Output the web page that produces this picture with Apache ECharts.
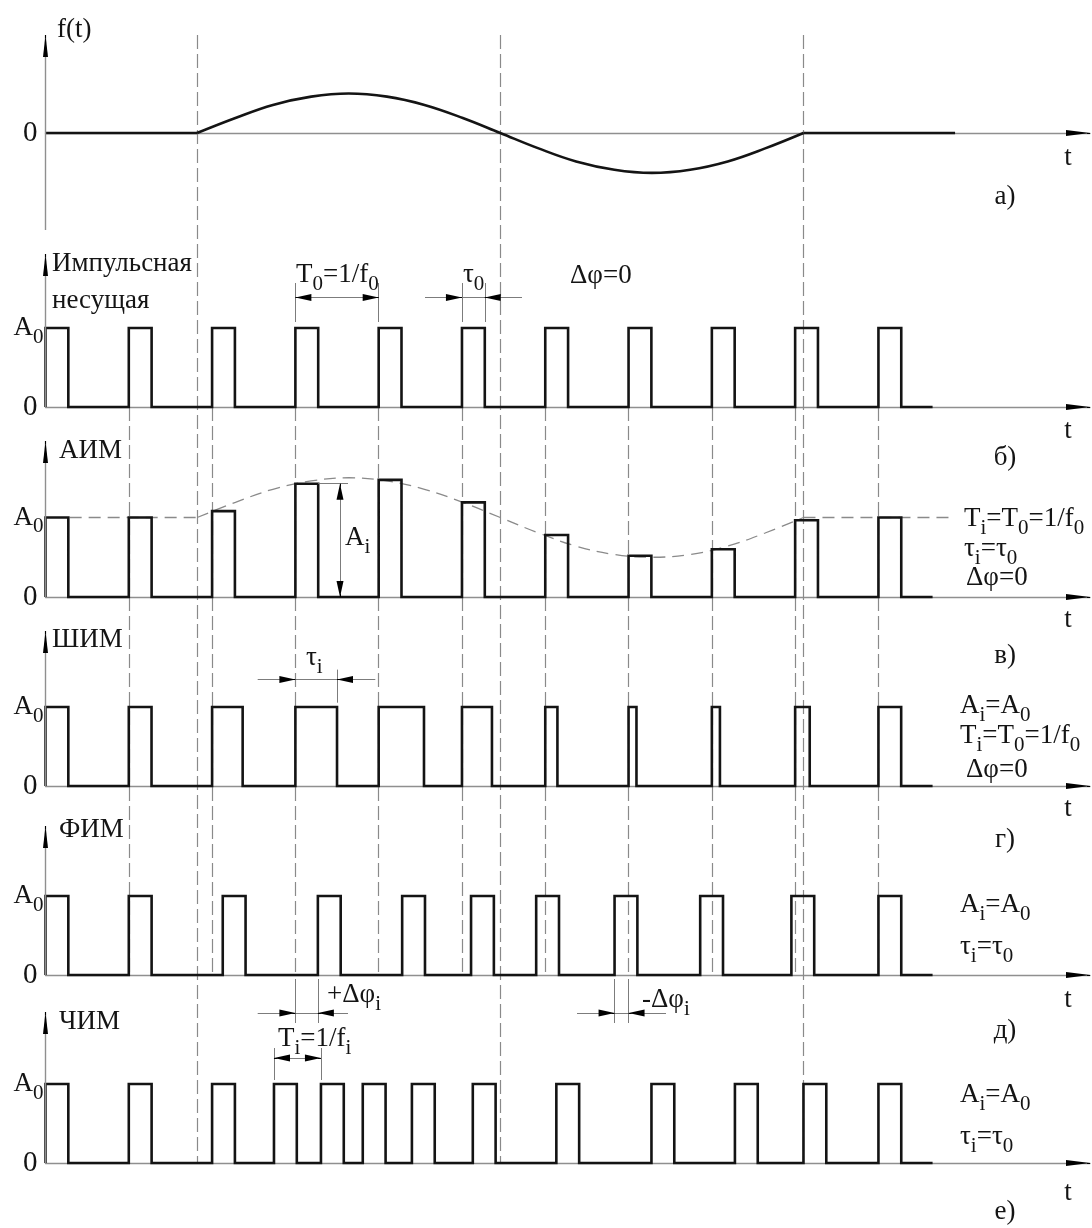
<!DOCTYPE html>
<html>
<head>
<meta charset="utf-8">
<title>Виды импульсной модуляции</title>
<script src="https://cdn.jsdelivr.net/npm/echarts@6/dist/echarts.min.js"></script>
<style>
  html, body { margin: 0; padding: 0; background: #fff; }
  #chart { width: 1092px; height: 1228px; }
</style>
</head>
<body>
<div id="chart"></div>
<script>
// ---------- data: time in carrier periods T0, amplitude in A0 units ----------
// modulating signal f(t), panel а)
const signalT = [1.82, 2.28, 2.73, 3.19, 3.64, 4.10, 4.55, 5.01, 5.46, 5.92, 6.37, 6.83, 7.28, 7.74, 8.19, 8.64, 9.10];
const signalF = [0, 0.38, 0.71, 0.92, 1.0, 0.92, 0.71, 0.38, 0, -0.39, -0.72, -0.93, -1.01, -0.93, -0.72, -0.39, 0];
const signalTailEnd = 10.92;
// АИМ envelope (dashed), same time points as the signal
const envelopeA = [1.0, 1.19, 1.355, 1.46, 1.5, 1.46, 1.355, 1.19, 1.0, 0.805, 0.64, 0.535, 0.5, 0.535, 0.64, 0.805, 1.0];
const envelopeHead = [0.29, 1.82];
const envelopeTail = [9.10, 10.92];
// pulse carrier, panel б)
const A0 = 1;
const carrierStart = [0, 1, 2, 3, 4, 5, 6, 7, 8, 9, 10];
const tau0 = 0.274;
// АИМ pulse heights
const aimHeight = [1.0, 1.0, 1.08, 1.425, 1.473, 1.19, 0.78, 0.518, 0.60, 0.965, 1.0];
// ШИМ pulse widths
const pwmWidth = [0.274, 0.273, 0.367, 0.50, 0.544, 0.36, 0.146, 0.095, 0.097, 0.175, 0.273];
// ФИМ pulse positions
const ppmStart = [0, 1, 2.128, 3.27, 4.282, 5.109, 5.891, 6.832, 7.86, 8.955, 10.0];
// ЧИМ pulse positions
const pfmStart = [0, 1, 2.0, 2.743, 3.307, 3.809, 4.399, 5.13, 6.133, 7.275, 8.277, 9.10, 10.0];
const traceEnd = 10.65;
const tMax = 12.54;

// ---------- layout ----------
const W = 1092, H = 1228;
const AXIS_LEFT = 45.5, AXIS_RIGHT = 1090;
const PX_PER_T = (AXIS_RIGHT - AXIS_LEFT) / tMax;
// zero line (px), px per amplitude unit, top of the vertical arrow (px), tick labels
const panels = [
  { zero: 133,  unit: 39.5, arrowTop: 35,   axisBottom: 230, labels: [0] },
  { zero: 407,  unit: 79,   arrowTop: 254,  labels: [0, A0] },
  { zero: 597,  unit: 79.5, arrowTop: 441,  labels: [0, A0] },
  { zero: 786,  unit: 79,   arrowTop: 631,  labels: [0, A0] },
  { zero: 975,  unit: 79,   arrowTop: 826,  labels: [0, A0] },
  { zero: 1163, unit: 79,   arrowTop: 1012, labels: [0, A0] }
];
const yv = (p, px) => (panels[p].zero - px) / panels[p].unit;
const tx = px => (px - AXIS_LEFT) / PX_PER_T;

const SERIF = '"Liberation Serif", "Times New Roman", serif';
const INK = '#141414';
const GRAY = '#8a8a8a';

const GUIDE = { color: GRAY, width: 1.2, type: [14, 5] };
const THIN = { color: '#7c7c7c', width: 1, type: 'solid' };
const AXIS = { color: '#8f8f8f', width: 1.4, type: 'solid' };
const HEAD = { color: '#000', width: 1, type: 'solid' };

function seg(a, b, style) {
  return [{ coord: a, lineStyle: style }, { coord: b, lineStyle: style }];
}
// filled arrowhead whose tip sits at `tip`, pointing in direction `dir`
function head(p, tip, dir, size) {
  const dx = 3 / PX_PER_T, dy = 3 / panels[p].unit;
  const back = {
    right: [tip[0] - dx, tip[1]], left: [tip[0] + dx, tip[1]],
    up: [tip[0], tip[1] - dy], down: [tip[0], tip[1] + dy]
  }[dir];
  return [
    { coord: back, lineStyle: HEAD },
    { coord: tip, lineStyle: HEAD, symbol: 'triangle', symbolSize: size || [7, 16], symbolOffset: [0, '50%'] }
  ];
}

function pulseTrace(starts, widths, heights, end) {
  const pts = [];
  for (let i = 0; i < starts.length; i++) {
    const s = starts[i], w = widths[i], h = heights[i];
    pts.push([s, 0], [s, h], [s + w, h], [s + w, 0]);
  }
  pts.push([end, 0]);
  return pts;
}

const TRACE = { color: INK, width: 2.6, join: 'miter', cap: 'butt' };
function traceSeries(p, data, extra) {
  return Object.assign({
    type: 'line', xAxisIndex: p, yAxisIndex: p, data: data,
    showSymbol: false, symbol: 'none', z: 3, silent: true,
    lineStyle: TRACE
  }, extra || {});
}
function markSeries(p, lines, z) {
  return {
    type: 'line', xAxisIndex: p, yAxisIndex: p, data: [], silent: true,
    showSymbol: false, symbol: 'none',
    markLine: {
      silent: true, animation: false, z: z,
      symbol: ['none', 'none'],
      label: { show: false },
      lineStyle: { type: 'solid', color: GRAY, width: 1 },
      data: lines
    }
  };
}

// ---------- traces ----------
const widthsOf = (arr, w) => arr.map(() => w);
const series = [];

// а) modulating signal
series.push(traceSeries(0, [[0, 0], [signalT[0], 0]]));
series.push(traceSeries(0, signalT.map((t, i) => [t, signalF[i]]), { smooth: 0.4 }));
series.push(traceSeries(0, [[signalT[signalT.length - 1], 0], [signalTailEnd, 0]]));

// б) carrier
series.push(traceSeries(1, pulseTrace(carrierStart, widthsOf(carrierStart, tau0), widthsOf(carrierStart, A0), traceEnd)));

// в) АИМ with its envelope
const ENV = { color: GRAY, width: 1.3, type: [12, 7] };
series.push(traceSeries(2, [[envelopeHead[0], A0], [envelopeHead[1], A0]], { lineStyle: ENV, z: 2 }));
series.push(traceSeries(2, signalT.map((t, i) => [t, envelopeA[i]]), { lineStyle: ENV, z: 2, smooth: 0.4 }));
series.push(traceSeries(2, [[envelopeTail[0], A0], [envelopeTail[1], A0]], { lineStyle: ENV, z: 2 }));
series.push(traceSeries(2, pulseTrace(carrierStart, widthsOf(carrierStart, tau0), aimHeight, traceEnd)));

// г) ШИМ
series.push(traceSeries(3, pulseTrace(carrierStart, pwmWidth, widthsOf(carrierStart, A0), traceEnd)));
// д) ФИМ
series.push(traceSeries(4, pulseTrace(ppmStart, widthsOf(ppmStart, tau0), widthsOf(ppmStart, A0), traceEnd)));
// е) ЧИМ
series.push(traceSeries(5, pulseTrace(pfmStart, widthsOf(pfmStart, tau0), widthsOf(pfmStart, A0), traceEnd)));

// ---------- guide lines (under the traces) ----------
const longGuides = [signalT[0], signalT[8], signalT[signalT.length - 1]]
  .map(x => seg([x, yv(0, 35)], [x, yv(0, 1163)], GUIDE));
series.push(markSeries(0, longGuides, 1));
const carrierGuides = carrierStart.slice(1).map(x => seg([x, 0], [x, yv(1, 975)], GUIDE));
series.push(markSeries(1, carrierGuides, 1));

// ---------- axes arrows and dimension marks ----------
const XHEAD = [6, 24], YHEAD = [5, 22];
panels.forEach((pn, p) => {
  const lines = [];
  const bottom = pn.axisBottom != null ? yv(p, pn.axisBottom) : 0;
  lines.push(seg([0, bottom], [0, yv(p, pn.arrowTop)], AXIS));
  lines.push(head(p, [0, yv(p, pn.arrowTop)], 'up', YHEAD));
  lines.push(head(p, [tMax, 0], 'right', XHEAD));

  if (p === 1) {
    const yD = yv(1, 297.5), e1 = yv(1, 322), e2 = yv(1, 283);
    const a = carrierStart[3], b = carrierStart[4];
    lines.push(seg([a, e1], [a, e2], THIN), seg([b, e1], [b, e2], THIN));
    lines.push(seg([a, yD], [b, yD], THIN), head(1, [a, yD], 'left'), head(1, [b, yD], 'right'));
    const c = carrierStart[5], d = carrierStart[5] + tau0;
    lines.push(seg([c, e1], [c, e2], THIN), seg([d, e1], [d, e2], THIN));
    lines.push(seg([tx(425), yD], [tx(522), yD], THIN), head(1, [c, yD], 'right'), head(1, [d, yD], 'left'));
  }
  if (p === 2) {
    const h = aimHeight[3], xa = tx(340);
    lines.push(seg([carrierStart[3] + tau0, h], [tx(348), h], THIN));
    lines.push(seg([xa, 0], [xa, h], THIN), head(2, [xa, h], 'up'), head(2, [xa, 0], 'down'));
  }
  if (p === 3) {
    const a = carrierStart[3], b = carrierStart[3] + pwmWidth[3], yD = yv(3, 679.4);
    lines.push(seg([b, yv(3, 702.7)], [b, yv(3, 669.6)], THIN));
    lines.push(seg([tx(257.7), yD], [tx(375.3), yD], THIN), head(3, [a, yD], 'right'), head(3, [b, yD], 'left'));
  }
  if (p === 4) {
    const yD = yv(4, 1013), e1 = yv(4, 979), e2 = yv(4, 1023);
    const a = carrierStart[3], b = ppmStart[3];
    lines.push(seg([a, e1], [a, e2], THIN), seg([b, e1], [b, e2], THIN));
    lines.push(seg([tx(257.7), yD], [tx(348), yD], THIN), head(4, [a, yD], 'right'), head(4, [b, yD], 'left'));
    const c = ppmStart[7], d = carrierStart[7];
    lines.push(seg([c, e1], [c, e2], THIN), seg([d, e1], [d, e2], THIN));
    lines.push(seg([tx(577), yD], [tx(666), yD], THIN), head(4, [c, yD], 'right'), head(4, [d, yD], 'left'));
  }
  if (p === 5) {
    const a = pfmStart[3], b = pfmStart[4], yD = yv(5, 1058), e1 = yv(5, 1080), e2 = yv(5, 1048);
    lines.push(seg([a, e1], [a, e2], THIN), seg([b, e1], [b, e2], THIN));
    lines.push(seg([a, yD], [b, yD], THIN), head(5, [a, yD], 'left'), head(5, [b, yD], 'right'));
  }
  series.push(markSeries(p, lines, 5));
});

// ---------- text ----------
const RICH = {
  m: { fontFamily: SERIF, fontSize: 27, fill: INK },
  s: { fontFamily: SERIF, fontSize: 21, fill: INK, padding: [18, 0, 0, 0] }
};
const LABELS = [
  // а)
  [57, 30, '{m|f(t)}'],
  [1068, 158, '{m|t}', 'center'],
  [1005, 197, '{m|а)}', 'center'],
  // б)
  [52, 264, '{m|Импульсная}'],
  [52, 301, '{m|несущая}'],
  [296, 275, '{m|T}{s|0}{m|=1/f}{s|0}'],
  [463, 275, '{m|τ}{s|0}'],
  [570, 276, '{m|Δφ=0}'],
  [1068, 431, '{m|t}', 'center'],
  [1005, 458, '{m|б)}', 'center'],
  // в)
  [59, 451, '{m|АИМ}'],
  [345, 538, '{m|A}{s|i}'],
  [964, 519, '{m|T}{s|i}{m|=T}{s|0}{m|=1/f}{s|0}'],
  [964, 549, '{m|τ}{s|i}{m|=τ}{s|0}'],
  [966, 578, '{m|Δφ=0}'],
  [1068, 620, '{m|t}', 'center'],
  [1005, 656, '{m|в)}', 'center'],
  // г)
  [52, 640, '{m|ШИМ}'],
  [306, 658, '{m|τ}{s|i}'],
  [960, 706, '{m|A}{s|i}{m|=A}{s|0}'],
  [960, 736, '{m|T}{s|i}{m|=T}{s|0}{m|=1/f}{s|0}'],
  [966, 770, '{m|Δφ=0}'],
  [1068, 809, '{m|t}', 'center'],
  [1005, 840, '{m|г)}', 'center'],
  // д)
  [59, 830, '{m|ФИМ}'],
  [327, 995, '{m|+Δφ}{s|i}'],
  [642, 1000, '{m|-Δφ}{s|i}'],
  [960, 905, '{m|A}{s|i}{m|=A}{s|0}'],
  [960, 947, '{m|τ}{s|i}{m|=τ}{s|0}'],
  [1068, 1000, '{m|t}', 'center'],
  [1005, 1031, '{m|д)}', 'center'],
  // е)
  [59, 1022, '{m|ЧИМ}'],
  [278, 1039, '{m|T}{s|i}{m|=1/f}{s|i}'],
  [960, 1095, '{m|A}{s|i}{m|=A}{s|0}'],
  [960, 1137, '{m|τ}{s|i}{m|=τ}{s|0}'],
  [1068, 1193, '{m|t}', 'center'],
  [1005, 1212, '{m|е)}', 'center']
];
const graphicTexts = LABELS.map(([x, y, text, align]) => ({
  type: 'text', x: x, y: y, silent: true, z: 10,
  style: {
    text: text, rich: RICH, font: '27px ' + SERIF, fill: INK,
    align: align || 'left', verticalAlign: 'middle'
  }
}));

const axisRich = {
  z: { fontFamily: SERIF, fontSize: 29, color: INK, padding: [0, 6, 0, 0] },
  a: { fontFamily: SERIF, fontSize: 27, color: INK },
  s: { fontFamily: SERIF, fontSize: 21, color: INK, padding: [18, 0, 0, 0] }
};

const option = {
  animation: false,
  backgroundColor: '#ffffff',
  grid: panels.map(() => ({
    left: AXIS_LEFT, top: 0, width: AXIS_RIGHT - AXIS_LEFT, height: H,
    containLabel: false, outerBoundsMode: 'none'
  })),
  xAxis: panels.map((pn, p) => ({
    type: 'value', gridIndex: p, min: 0, max: tMax,
    axisLine: { show: true, onZero: true, lineStyle: { color: AXIS.color, width: AXIS.width } },
    axisTick: { show: false }, axisLabel: { show: false }, splitLine: { show: false }
  })),
  yAxis: panels.map((pn, p) => ({
    type: 'value', gridIndex: p, min: yv(p, H), max: yv(p, 0),
    axisLine: { show: false }, axisTick: { show: false }, splitLine: { show: false },
    axisLabel: {
      show: true, customValues: pn.labels, margin: 2,
      formatter: v => (v === 0 ? '{z|0}' : '{a|A}{s|0}'),
      rich: axisRich
    }
  })),
  graphic: { elements: graphicTexts },
  series: series
};

const chart = echarts.init(document.getElementById('chart'), null, { renderer: 'canvas', width: W, height: H });
chart.setOption(option);
</script>
</body>
</html>
